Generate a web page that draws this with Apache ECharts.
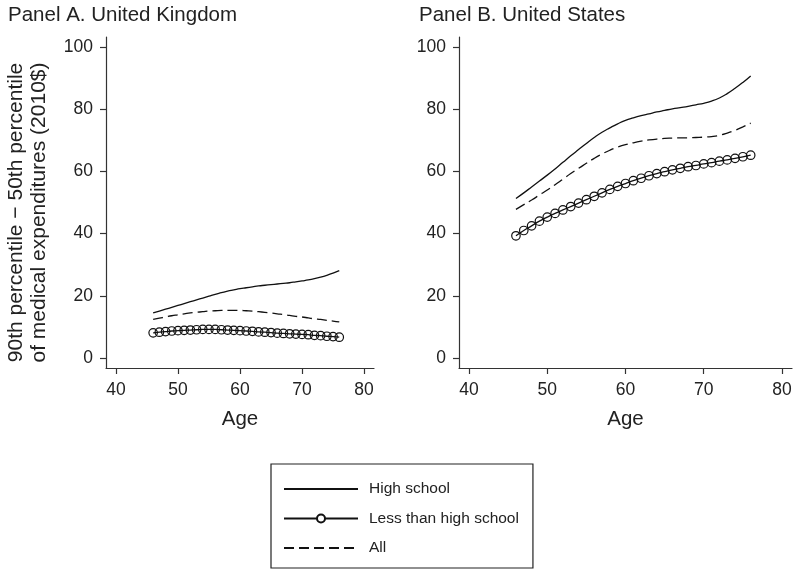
<!DOCTYPE html>
<html>
<head>
<meta charset="utf-8">
<script src="https://cdn.jsdelivr.net/npm/echarts@6/dist/echarts.min.js"></script>
<style>html,body{margin:0;padding:0;background:#fff}#c{width:793px;height:572px}</style>
</head>
<body>
<div id="c"></div>
<script>
const ages = [46,47,48,49,50,51,52,53,54,55,56,57,58,59,60,61,62,63,64,65,66,67,68,69,70,71,72,73,74,75,76];
const xTicks = [40,50,60,70,80];
const yTicks = [0,20,40,60,80,100];

const ukHigh = [14.5,15.1,15.7,16.3,16.9,17.5,18.1,18.7,19.3,19.9,20.5,21.0,21.5,21.9,22.3,22.6,22.9,23.2,23.4,23.6,23.8,24.0,24.2,24.5,24.8,25.1,25.5,26.0,26.6,27.3,28.1];
const ukLess = [8.1,8.3,8.5,8.7,8.8,8.9,9.0,9.1,9.2,9.2,9.2,9.1,9.0,8.9,8.8,8.7,8.6,8.4,8.3,8.2,8.0,7.9,7.8,7.7,7.6,7.5,7.3,7.2,7.0,6.9,6.7];
const ukAll  = [12.4,12.8,13.2,13.6,13.9,14.2,14.5,14.7,14.9,15.1,15.2,15.3,15.3,15.3,15.3,15.2,15.1,14.9,14.7,14.5,14.2,14.0,13.7,13.4,13.2,12.9,12.6,12.4,12.1,11.9,11.6];

const usHigh = [51.3,53.1,55.0,56.9,58.8,60.8,62.9,65.0,67.0,69.0,70.9,72.6,74.0,75.3,76.4,77.2,77.9,78.5,79.1,79.6,80.1,80.5,80.9,81.4,81.9,82.6,83.6,85.0,86.7,88.6,90.7];
const usLess = [39.3,41.0,42.5,44.0,45.3,46.5,47.6,48.7,49.8,50.9,52.0,53.1,54.2,55.2,56.1,57.0,57.8,58.6,59.3,59.9,60.5,61.0,61.5,61.9,62.4,62.8,63.3,63.7,64.2,64.7,65.2];
const usAll  = [47.8,49.3,50.8,52.4,54.0,55.7,57.5,59.3,61.0,62.6,64.2,65.6,66.8,67.8,68.6,69.2,69.7,70.1,70.4,70.6,70.7,70.8,70.8,70.9,71.0,71.2,71.6,72.3,73.2,74.3,75.5];

const panelTitles = ['Panel A. United Kingdom','Panel B. United States'];
const seriesNames = ['High school','Less than high school','All'];
const yTitle = '90th percentile \u2212 50th percentile\nof medical expenditures (2010$)';
const xTitle = 'Age';

const FONT = 'Liberation Sans, Arial, sans-serif';
const INK = '#222';
const LINE = '#111';
const pair = a => ages.map((x,i)=>[x,a[i]]);

function xAxis(gi, min, max){
  return {
    type:'value', gridIndex:gi, min:min, max:max,
    name:xTitle, nameLocation:'middle', nameGap:41,
    nameTextStyle:{fontFamily:FONT,fontSize:20.5,color:INK},
    axisLine:{show:true,onZero:false,lineStyle:{color:'#333',width:1.2}},
    axisTick:{show:true,length:6,customValues:xTicks,lineStyle:{color:'#333',width:1.2}},
    axisLabel:{customValues:xTicks,fontFamily:FONT,fontSize:17.5,color:INK,margin:13},
    splitLine:{show:false}
  };
}
function yAxis(gi, withName){
  const a = {
    type:'value', gridIndex:gi, min:-3.2, max:103.2,
    axisLine:{show:true,onZero:false,lineStyle:{color:'#333',width:1.2}},
    axisTick:{show:true,length:6,customValues:yTicks,lineStyle:{color:'#333',width:1.2}},
    axisLabel:{customValues:yTicks,fontFamily:FONT,fontSize:17.5,color:INK,margin:13},
    splitLine:{show:false}
  };
  if(withName){
    a.name = yTitle; a.nameLocation='middle'; a.nameGap=55;
    a.nameTextStyle={fontFamily:FONT,fontSize:21,lineHeight:23.5,color:INK,padding:[0,20,0,0]};
  }
  return a;
}
function lineSeries(name, data, gi, kind){
  const s = {name:name, type:'line', xAxisIndex:gi, yAxisIndex:gi, data:pair(data),
    smooth:true, animation:false, z:2,
    lineStyle:{color:LINE,width:1.3,type:'solid'},
    itemStyle:{color:LINE},
    symbol:'none'};
  if(kind==='less'){
    s.symbol='circle'; s.symbolSize=8.5; s.showSymbol=true; s.showAllSymbol=true;
    s.itemStyle={color:'rgba(255,255,255,0)',borderColor:LINE,borderWidth:1.2};
    s.z=3;
  }
  if(kind==='all'){ s.lineStyle.type=[10,5]; }
  return s;
}

const chart = echarts.init(document.getElementById('c'), null, {renderer:'canvas'});
chart.setOption({
  backgroundColor:'#fff',
  animation:false,
  title:[
    {text:panelTitles[0],left:3,top:0,textStyle:{fontFamily:FONT,fontSize:20.5,fontWeight:'normal',color:INK}},
    {text:panelTitles[1],left:414,top:0,textStyle:{fontFamily:FONT,fontSize:20.5,fontWeight:'normal',color:INK}}
  ],
  grid:[
    {left:106,top:37,width:268,height:331,outerBoundsMode:'none',containLabel:false},
    {left:459,top:37,width:333,height:331,outerBoundsMode:'none',containLabel:false}
  ],
  xAxis:[xAxis(0,38.4,81.6), xAxis(1,38.72,81.28)],
  yAxis:[yAxis(0,true), yAxis(1,false)],
  legend:{
    data:[
      {name:seriesNames[0], itemStyle:{opacity:0}},
      {name:seriesNames[1], itemStyle:{color:'#fff',borderColor:LINE,borderWidth:2}},
      {name:seriesNames[2], itemStyle:{opacity:0}}
    ],
    orient:'vertical', left:271, top:464,
    itemWidth:74, itemHeight:10, itemGap:13.5,
    padding:[17,14,12,12],
    borderColor:'#222', borderWidth:1.2,
    textStyle:{fontFamily:FONT,fontSize:15.5,color:INK,padding:[0,0,0,6]},
    selectedMode:false
  },
  series:[
    lineSeries(seriesNames[0], ukHigh, 0, 'high'),
    lineSeries(seriesNames[1], ukLess, 0, 'less'),
    lineSeries(seriesNames[2], ukAll, 0, 'all'),
    lineSeries(seriesNames[0], usHigh, 1, 'high'),
    lineSeries(seriesNames[1], usLess, 1, 'less'),
    lineSeries(seriesNames[2], usAll, 1, 'all')
  ]
});
</script>
</body>
</html>
